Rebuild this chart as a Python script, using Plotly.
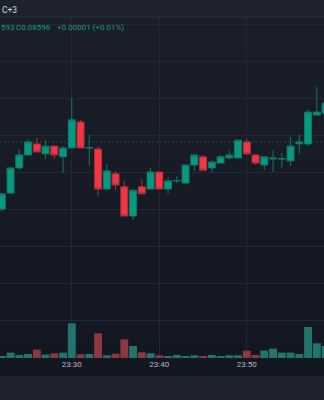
import plotly.graph_objects as go
import datetime as _dt

# ---------------- data ----------------
minutes = list(range(22, 60))
times = [f"2024-01-01 23:{m:02d}:00" for m in minutes]

open_ = [0.085680, 0.085723, 0.085791, 0.085826, 0.085856, 0.085829, 0.085850, 0.085821,
         0.085845, 0.085915, 0.085845, 0.085842, 0.085734, 0.085775, 0.085740, 0.085661,
         0.085740, 0.085734, 0.085780, 0.085734, 0.085756, 0.085750, 0.085799, 0.085821,
         0.085791, 0.085804, 0.085818, 0.085818, 0.085861, 0.085826, 0.085799, 0.085815,
         0.085815, 0.085810, 0.085856, 0.085856, 0.085934, 0.085939]
high = [0.085723, 0.085794, 0.085842, 0.085869, 0.085872, 0.085866, 0.085850, 0.085850,
        0.085980, 0.085921, 0.085880, 0.085850, 0.085802, 0.085783, 0.085756, 0.085731,
        0.085761, 0.085791, 0.085780, 0.085766, 0.085769, 0.085799, 0.085826, 0.085826,
        0.085812, 0.085826, 0.085839, 0.085866, 0.085869, 0.085826, 0.085821, 0.085839,
        0.085831, 0.085875, 0.085880, 0.085950, 0.086010, 0.085975]
low = [0.085672, 0.085721, 0.085785, 0.085825, 0.085834, 0.085815, 0.085815, 0.085777,
       0.085845, 0.085845, 0.085796, 0.085715, 0.085734, 0.085731, 0.085661, 0.085650,
       0.085721, 0.085734, 0.085734, 0.085721, 0.085750, 0.085750, 0.085783, 0.085785,
       0.085780, 0.085802, 0.085815, 0.085818, 0.085826, 0.085799, 0.085785, 0.085780,
       0.085791, 0.085796, 0.085829, 0.085850, 0.085931, 0.085939]
close = [0.085721, 0.085791, 0.085826, 0.085861, 0.085834, 0.085850, 0.085826, 0.085845,
         0.085921, 0.085845, 0.085846, 0.085734, 0.085783, 0.085745, 0.085661, 0.085731,
         0.085721, 0.085780, 0.085734, 0.085756, 0.085757, 0.085799, 0.085826, 0.085785,
         0.085807, 0.085821, 0.085826, 0.085866, 0.085829, 0.085804, 0.085821, 0.085818,
         0.085816, 0.085850, 0.085861, 0.085942, 0.085942, 0.085966]
volume = [2000, 5400, 3000, 4000, 8400, 3400, 4700, 5400, 34700, 3700, 4000, 24700,
          2700, 4400, 18700, 12000, 5700, 4700, 2700, 1700, 3000, 1700, 2700, 1700,
          3000, 1700, 2700, 2700, 7400, 3000, 7400, 9400, 5400, 5400, 4000, 31000,
          14700, 12000]

tick_times = ["2024-01-01 23:30:00", "2024-01-01 23:40:00", "2024-01-01 23:50:00"]
tick_labels = ["23:30", "23:40", "23:50"]
last_price_line = 0.085861

header_top = "C+3"
header_low_tail = "593"
header_close = "C0.08596"
header_change = "+0.00001 (+0.01%)"

# ---------------- style ----------------
W, H = 324, 400
T, B = 18, 42
PH = H - T - B
GREEN = "#089981"
RED = "#f23645"
GREEN_LINE = "#127766"
RED_LINE = "#a8313c"
VOL_GREEN = "#22756c"
VOL_RED = "#8c383d"
GRID = "#242834"
BAND = "#1e222d"
HEAD_GREEN = "#1a9a85"

def py(pix):  # pixel row -> paper y
    return (H - B - pix) / PH

vol_colors = [VOL_GREEN if c >= o else VOL_RED for o, c in zip(open_, close)]

fig = go.Figure()
fig.add_trace(go.Bar(
    x=times, y=volume, marker=dict(color=vol_colors, line=dict(width=0)),
    yaxis="y2", hoverinfo="skip"))
fig.add_trace(go.Candlestick(
    x=times, open=open_, high=high, low=low, close=close,
    increasing=dict(fillcolor=GREEN, line=dict(color=GREEN_LINE, width=1)),
    decreasing=dict(fillcolor=RED, line=dict(color=RED_LINE, width=1)),
    whiskerwidth=0, hoverinfo="skip"))

shapes = []
# gradient background
top_c, bot_c = (26, 30, 41), (19, 23, 33)
n = 10
y_top, y_bot = 17, 376
for i in range(n):
    t = i / (n - 1)
    c = tuple(round(a + (b - a) * t) for a, b in zip(top_c, bot_c))
    y0 = y_top + (y_bot - y_top) * i / n
    y1 = y_top + (y_bot - y_top) * (i + 1) / n
    shapes.append(dict(type="rect", xref="paper", yref="paper", x0=0, x1=1,
                       y0=py(y1), y1=py(y0), fillcolor=f"rgb{c}", line=dict(width=0),
                       layer="below"))
shapes.append(dict(type="line", xref="paper", yref="paper", x0=0, x1=1,
                   y0=py(17), y1=py(17), line=dict(color="#2a2e39", width=1), layer="below"))
shapes.append(dict(type="line", xref="paper", yref="y", x0=0, x1=1,
                   y0=last_price_line, y1=last_price_line,
                   line=dict(color="rgba(8,153,129,0.45)", width=1, dash="2px,2px")))

annotations = [
    dict(text=header_top, xref="paper", yref="paper", x=0, y=py(10), xanchor="left",
         yanchor="middle", showarrow=False, font=dict(size=8.5, color="#d1d4dc", family="Roboto")),
    dict(text=header_low_tail, xref="paper", yref="paper", x=-1 / W, y=py(27), xanchor="left",
         yanchor="middle", showarrow=False, font=dict(size=8, color=HEAD_GREEN, family="Roboto")),
    dict(text=header_close, xref="paper", yref="paper", x=14 / W, y=py(27), xanchor="left",
         yanchor="middle", showarrow=False, font=dict(size=8, color=HEAD_GREEN, family="Roboto")),
    dict(text=header_change, xref="paper", yref="paper", x=55 / W, y=py(27), xanchor="left",
         yanchor="middle", showarrow=False, font=dict(size=8, color=HEAD_GREEN, family="Roboto")),
]

px_per_min = 8.75
x_2330 = 71.8
left_min = -x_2330 / px_per_min
right_min = (W - x_2330) / px_per_min
base = _dt.datetime(2024, 1, 1, 23, 30)
x_left = base + _dt.timedelta(minutes=left_min)
x_right = base + _dt.timedelta(minutes=right_min)

price_per_px = 0.0001 / 37
y_hi = 0.08598 + (98 - T) * price_per_px
y_lo = 0.08598 - (H - B - 98) * price_per_px

fig.update_layout(
    width=W, height=H, margin=dict(l=0, r=0, t=T, b=B),
    paper_bgcolor=BAND, plot_bgcolor="rgba(0,0,0,0)",
    showlegend=False, hovermode=False,
    bargap=0.1, boxgap=0.2, boxgroupgap=0,
    shapes=shapes, annotations=annotations,
    font=dict(family="Roboto", color="#b2b5be"),
    xaxis=dict(type="date", range=[x_left, x_right], tickvals=tick_times, ticktext=tick_labels,
               showgrid=True, gridcolor=GRID, gridwidth=1, zeroline=False, showline=False,
               ticks="", tickfont=dict(size=8, color="#b2b5be", family="Roboto"),
               rangeslider=dict(visible=False), fixedrange=True),
    yaxis=dict(range=[y_lo, y_hi], tick0=0.08598, dtick=0.0001, showgrid=True,
               gridcolor=GRID, gridwidth=1, zeroline=False, showticklabels=False,
               showline=False, ticks="", fixedrange=True),
    yaxis2=dict(overlaying="y", range=[0, PH * 1000], showgrid=False, zeroline=False,
                showticklabels=False, showline=False, fixedrange=True),
)

fig.write_html("out.html")
